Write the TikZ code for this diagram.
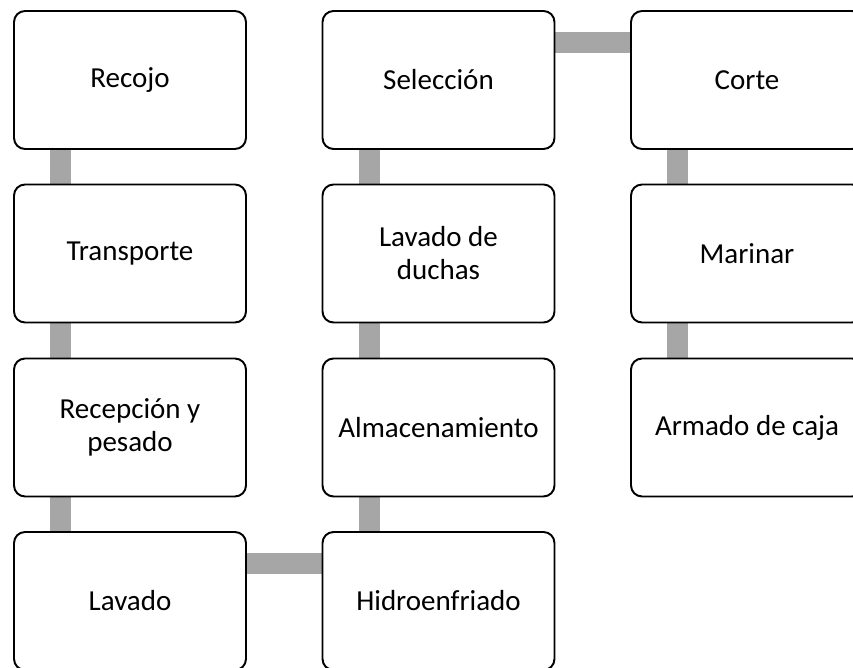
\documentclass[tikz,border=0pt]{standalone}
\usepackage{fontspec}
\setmainfont{Carlito}
\usetikzlibrary{backgrounds}
\definecolor{conector}{HTML}{A6A6A6}
\begin{document}
\begin{tikzpicture}[x=0.02cm,y=-0.02cm]

        \tikzset{
            paso/.style={draw, fill=white, line width=1.1pt, rounded corners=0.22cm,
                minimum width=4.64cm, minimum height=2.76cm, align=center,
                font=\fontsize{16.5}{18.8}\selectfont},
            enlace/.style={draw=conector, line width=0.42cm}
        }

        \clip (0,0) rectangle (853,668);

        \node[paso] (recojo) at (130,80) {Recojo};
        \node[paso] (transporte) at (130,253.5) {Transporte};
        \node[paso] (recepcion) at (130,427.5) {Recepción y\\pesado};
        \node[paso] (lavado) at (130,601) {Lavado};

        \node[paso] (hidro) at (438.5,601) {Hidroenfriado};
        \node[paso] (almacen) at (438.5,427.5) {Almacenamiento};
        \node[paso] (duchas) at (438.5,253.5) {Lavado de\\duchas};
        \node[paso] (seleccion) at (438.5,80) {Selección};

        \node[paso] (corte) at (747,80) {Corte};
        \node[paso] (marinar) at (747,253.5) {Marinar};
        \node[paso] (caja) at (747,427.5) {Armado de caja};

        \begin{pgfonlayer}{background}
            \draw[enlace] ([xshift=0.95cm]recojo.south west) -- ([xshift=0.95cm]transporte.north west);
            \draw[enlace] ([xshift=0.95cm]transporte.south west) -- ([xshift=0.95cm]recepcion.north west);
            \draw[enlace] ([xshift=0.95cm]recepcion.south west) -- ([xshift=0.95cm]lavado.north west);
            \draw[enlace] ([yshift=-0.65cm]lavado.north east) -- ([yshift=-0.65cm]hidro.north west);
            \draw[enlace] ([xshift=0.95cm]hidro.north west) -- ([xshift=0.95cm]almacen.south west);
            \draw[enlace] ([xshift=0.95cm]almacen.north west) -- ([xshift=0.95cm]duchas.south west);
            \draw[enlace] ([xshift=0.95cm]duchas.north west) -- ([xshift=0.95cm]seleccion.south west);
            \draw[enlace] ([yshift=-0.65cm]seleccion.north east) -- ([yshift=-0.65cm]corte.north west);
            \draw[enlace] ([xshift=0.95cm]corte.south west) -- ([xshift=0.95cm]marinar.north west);
            \draw[enlace] ([xshift=0.95cm]marinar.south west) -- ([xshift=0.95cm]caja.north west);
        \end{pgfonlayer}

    \end{tikzpicture}
\end{document}
